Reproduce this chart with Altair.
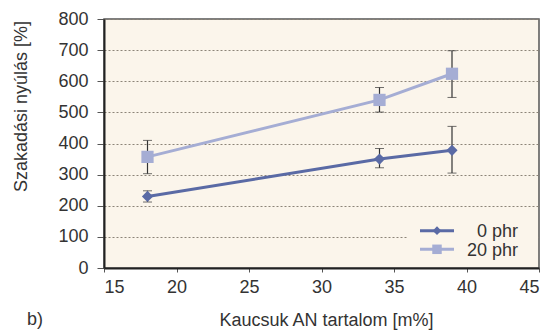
import altair as alt
import pandas as pd

# ---- data ----
an_content = [18, 34, 39]                 # Kaucsuk AN tartalom [m%]
series = ["0 phr", "20 phr"]
elong_0 = [230, 350, 378]                 # Szakadási nyúlás [%]
low_0 = [212, 322, 305]
high_0 = [248, 384, 455]
elong_20 = [357, 540, 624]
low_20 = [303, 501, 548]
high_20 = [410, 580, 698]
x_ticks = [15, 20, 25, 30, 35, 40, 45]
y_ticks = [0, 100, 200, 300, 400, 500, 600, 700, 800]

rows = []
for s, ys, lo, hi in [(series[0], elong_0, low_0, high_0),
                      (series[1], elong_20, low_20, high_20)]:
    for x, y, l, h in zip(an_content, ys, lo, hi):
        rows.append({"series": s, "x": x, "y": y, "lo": l, "hi": h})
df = pd.DataFrame(rows)

colors = ["#5A6AA5", "#A5ADD4"]
shapes = ["diamond", "square"]
BG = "#FBF5EB"
TXT = "#333333"
FONT = "Liberation Sans"

x_axis = alt.Axis(values=x_ticks, title="Kaucsuk AN tartalom [m%]", grid=False,
                  tickSize=4, labelPadding=6, titleX=222, titleY=57,
                  titleBaseline="alphabetic", titleAlign="center")
y_axis = alt.Axis(values=y_ticks, title="Szakadási nyúlás [%]", grid=True,
                  gridDash=[2, 2], gridColor="#8c8478", gridWidth=1,
                  tickSize=7, labelPadding=9, titleX=-78, titleY=87,
                  titleAngle=-90, titleBaseline="alphabetic", titleAlign="center")
x_scale = alt.Scale(domain=[15, 45], nice=False, zero=False)
y_scale = alt.Scale(domain=[0, 800], nice=False)

X = alt.X("x:Q", scale=x_scale, axis=x_axis)
color = alt.Color("series:N", scale=alt.Scale(domain=series, range=colors), legend=None)

base = alt.Chart(df)

err = base.mark_errorbar(
    ticks={"size": 9, "color": "#333333"},
    rule={"color": "#333333", "strokeWidth": 1.2},
    color="#333333",
).encode(
    x=X,
    y=alt.Y("lo:Q", scale=y_scale, axis=y_axis),
    y2="hi:Q",
)

lines = base.mark_line(strokeWidth=3).encode(
    x=X, y=alt.Y("y:Q", scale=y_scale, axis=y_axis), color=color, detail="series:N"
)

points = base.mark_point(filled=True, opacity=1).encode(
    x=X,
    y=alt.Y("y:Q", scale=y_scale, axis=y_axis),
    color=color,
    shape=alt.Shape("series:N", scale=alt.Scale(domain=series, range=shapes), legend=None),
    size=alt.Size("series:N", scale=alt.Scale(domain=series, range=[125, 150]), legend=None),
)

# ---- manual legend (inside, bottom right) ----
one = pd.DataFrame({"k": [0]})
legend_bg = alt.Chart(one).mark_rect(fill=BG).encode(
    x=alt.value(304), x2=alt.value(434), y=alt.value(198), y2=alt.value(246)
)
legend_layers = [legend_bg]
for i, s in enumerate(series):
    yy = 211.7 + i * 18.6
    legend_layers.append(
        alt.Chart(one).mark_rule(strokeWidth=3, color=colors[i]).encode(
            x=alt.value(316), x2=alt.value(350), y=alt.value(yy)
        )
    )
    legend_layers.append(
        alt.Chart(one).mark_point(shape=shapes[i], filled=True, opacity=1,
                                  size=75 if i == 0 else 90, color=colors[i]).encode(
            x=alt.value(333), y=alt.value(yy)
        )
    )
    legend_layers.append(
        alt.Chart(one).mark_text(text=s, align="right", baseline="alphabetic",
                                 fontSize=18, font=FONT, color=TXT).encode(
            x=alt.value(414), y=alt.value(yy + 6.3)
        )
    )

label_b = alt.Chart(one).mark_text(text="b)", align="left", baseline="alphabetic",
                                   fontSize=18, font=FONT, color=TXT).encode(
    x=alt.value(-77), y=alt.value(306)
)

chart = alt.layer(err, lines, points, *legend_layers, label_b).properties(
    width=435,
    height=249,
    autosize=alt.AutoSizeParams(type="none"),
    padding={"left": 104, "top": 19, "right": 18, "bottom": 63},
    background="white",
).configure_view(
    fill=BG, stroke="#555555", strokeWidth=1.5
).configure_axis(
    domainColor="#222222", domainWidth=2, tickColor="#555555", tickWidth=1,
    labelColor=TXT, titleColor=TXT, labelFont=FONT, titleFont=FONT,
    labelFontSize=18, titleFontSize=18, titleFontWeight="normal",
)

chart.save("out.html", embed_options={"renderer": "svg", "actions": False})
